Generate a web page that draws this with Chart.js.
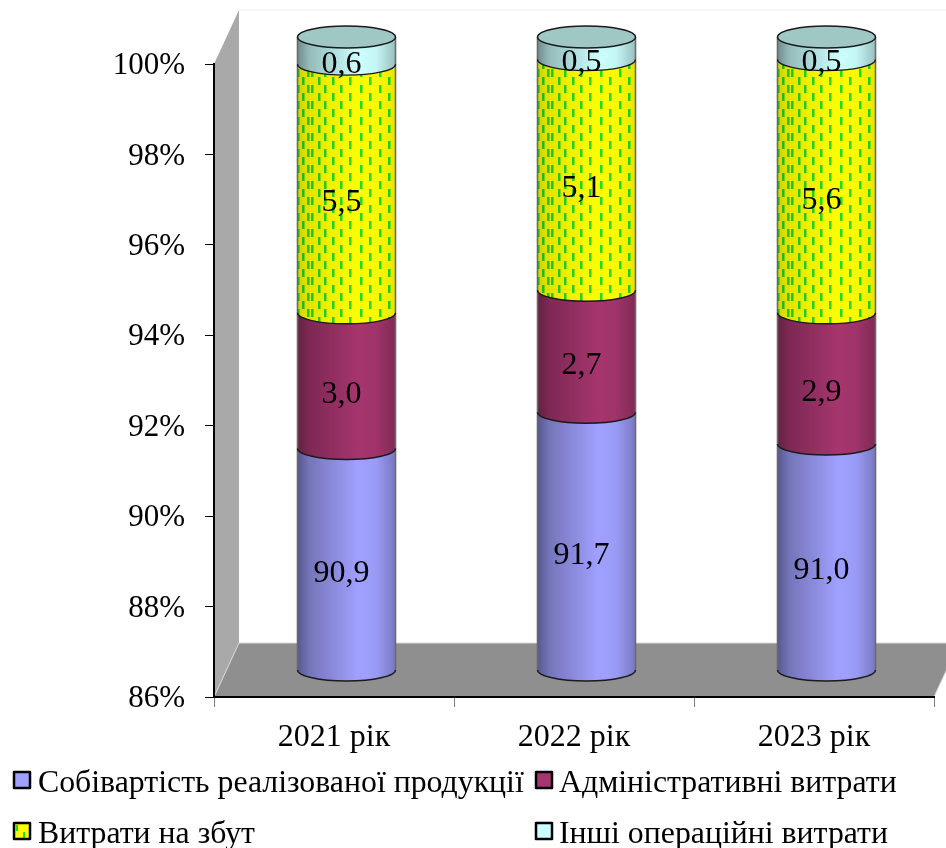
<!DOCTYPE html>
<html lang="uk">

<head>
  <meta charset="utf-8">
  <title>Структура витрат</title>
  <script src="https://cdn.jsdelivr.net/npm/chart.js"></script>
  <style>
    html, body { margin: 0; padding: 0; background: #fff; overflow: hidden; }
    canvas { display: block; }
  </style>
</head>

<body>
  <canvas id="chart" width="946" height="848"></canvas>
  <script type="text/javascript">
    const years = ["2021 рік", "2022 рік", "2023 рік"];
    const cost_of_sales = [90.9, 91.7, 91.0];
    const admin_costs = [3.0, 2.7, 2.9];
    const selling_costs = [5.5, 5.1, 5.6];
    const other_costs = [0.6, 0.5, 0.5];
    const series_names = ["Собівартість реалізованої продукції", "Адміністративні витрати", "Витрати на збут", "Інші операційні витрати"];
    const series_colors = ["#a0a0ff", "#a5356e", "#ffff00", "#ccffff"];
    const shade_strength = [0.9, 0.8, 0.35, 0.9];

    const SERIF = "'Liberation Serif', 'Times New Roman', serif";
    const DEPTH_X = 25, DEPTH_Y = 54;
    const RY = 11;
    const DASH_GREEN = "#1fdc1f";

    // cylinders stand half way into the 3D floor
    const SHIFT_X = DEPTH_X / 2, SHIFT_Y = -27;

    // dashed texture of the yellow segment, columns get tighter to the cylinder edges
    function make_dash_pattern(ctx, w) {
      const tile = document.createElement("canvas");
      tile.width = w;
      tile.height = 16;
      const t = tile.getContext("2d");
      t.fillStyle = DASH_GREEN;
      [1, 8, 14, 22, 30, 39, 50, 59, 69, 78, 85, 90, 95].forEach((x, i) => {
        t.fillRect(x, i % 2 ? 8 : 0, 2.5, 8);
      });
      return ctx.createPattern(tile, "repeat");
    }

    function bottom_half(ctx, x, y, rx) {
      ctx.ellipse(x, y, rx, RY, 0, 0, Math.PI);
    }

    function shade_for(ctx, left, width, k) {
      const shade = ctx.createLinearGradient(left, 0, left + width, 0);
      const a = v => "rgba(0,0,0," + (v * k) + ")";
      shade.addColorStop(0, a(0.5));
      shade.addColorStop(0.12, a(0.3));
      shade.addColorStop(0.62, a(0));
      shade.addColorStop(0.8, a(0.04));
      shade.addColorStop(1, a(0.28));
      return shade;
    }

    const walls_plugin = {
      id: "walls",
      beforeDraw(chart) {
        const { ctx, chartArea: a } = chart;
        ctx.save();
        // back wall edge
        ctx.strokeStyle = "#eeeeee";
        ctx.beginPath();
        ctx.moveTo(a.left + DEPTH_X, a.top - DEPTH_Y);
        ctx.lineTo(a.right + DEPTH_X, a.top - DEPTH_Y);
        ctx.stroke();
        // left wall
        ctx.fillStyle = "#a9a9a9";
        ctx.beginPath();
        ctx.moveTo(a.left, a.top);
        ctx.lineTo(a.left + DEPTH_X, a.top - DEPTH_Y);
        ctx.lineTo(a.left + DEPTH_X, a.bottom - DEPTH_Y);
        ctx.lineTo(a.left, a.bottom);
        ctx.closePath();
        ctx.fill();
        // floor
        ctx.fillStyle = "#8f8f8f";
        ctx.strokeStyle = "#d8d8d8";
        ctx.beginPath();
        ctx.moveTo(a.left, a.bottom);
        ctx.lineTo(a.left + DEPTH_X, a.bottom - DEPTH_Y);
        ctx.lineTo(a.right + DEPTH_X, a.bottom - DEPTH_Y);
        ctx.lineTo(a.right, a.bottom);
        ctx.closePath();
        ctx.fill();
        ctx.beginPath();
        ctx.moveTo(a.left, a.bottom);
        ctx.lineTo(a.left + DEPTH_X, a.bottom - DEPTH_Y);
        ctx.lineTo(a.right + DEPTH_X, a.bottom - DEPTH_Y);
        ctx.lineTo(a.right, a.bottom);
        ctx.stroke();
        ctx.restore();
      }
    };

    const cylinder_plugin = {
      id: "cylinder",
      beforeDatasetsDraw(chart) {
        chart.ctx.save();
        chart.ctx.translate(SHIFT_X, SHIFT_Y);
      },
      afterDatasetsDraw(chart) {
        const { ctx, chartArea: a } = chart;
        const metas = chart.getSortedVisibleDatasetMetas();
        metas[0].data.forEach((_, i) => {
          const first = metas[0].data[i];
          const x = first.x, w = first.width, rx = w / 2;
          const left = x - rx;
          const top_bar = metas[metas.length - 1].data[i];
          const dash = make_dash_pattern(ctx, Math.round(w));
          dash.setTransform(new DOMMatrix().translate(left + SHIFT_X, 0));

          // curved lower rims and shading, bottom segment first
          metas.forEach((meta, d) => {
            const bar = meta.data[i];
            const bottom = Math.min(bar.base, a.bottom);
            ctx.fillStyle = series_colors[d];
            ctx.beginPath();
            ctx.moveTo(left, bottom - 1);
            ctx.lineTo(left + w, bottom - 1);
            bottom_half(ctx, x, bottom, rx);
            ctx.closePath();
            ctx.fill();

            const body = new Path2D();
            body.moveTo(left, bar.y);
            body.lineTo(left + w, bar.y);
            body.ellipse(x, bottom, rx, RY, 0, 0, Math.PI);
            body.closePath();
            if (d == 2) {
              ctx.fillStyle = dash;
              ctx.fill(body);
            }
            ctx.fillStyle = shade_for(ctx, left, w, shade_strength[d]);
            ctx.fill(body);
          });

          // side lines
          ctx.strokeStyle = "#6a6a6a";
          ctx.lineWidth = 1.6;
          ctx.beginPath();
          ctx.moveTo(left, top_bar.y);
          ctx.lineTo(left, a.bottom);
          ctx.moveTo(left + w, top_bar.y);
          ctx.lineTo(left + w, a.bottom);
          ctx.stroke();

          // rim lines
          ctx.strokeStyle = "#1a1a1a";
          ctx.lineWidth = 1.4;
          metas.forEach((meta) => {
            const bar = meta.data[i];
            ctx.beginPath();
            bottom_half(ctx, x, Math.min(bar.base, a.bottom), rx);
            ctx.stroke();
          });

          // top cap
          ctx.fillStyle = "#9fc8c5";
          ctx.strokeStyle = "#1a1a1a";
          ctx.beginPath();
          ctx.ellipse(x, top_bar.y, rx, RY, 0, 0, Math.PI * 2);
          ctx.fill();
          ctx.stroke();

          // value labels
          ctx.fillStyle = "#000";
          ctx.font = "32px " + SERIF;
          ctx.textAlign = "center";
          ctx.textBaseline = "middle";
          metas.forEach((meta, d) => {
            const bar = meta.data[i];
            const bottom = Math.min(bar.base, a.bottom);
            const value = chart.data.datasets[d].data[i];
            ctx.fillText(value.toFixed(1).replace(".", ","), x - 5, (bar.y + bottom) / 2 + RY + 3);
          });
        });
        ctx.restore();
      }
    };

    const legend_plugin = {
      id: "legend2col",
      afterDraw(chart) {
        const { ctx } = chart;
        const cols = [14, 536];
        const rows = [772, 823];
        ctx.save();
        ctx.font = "31.8px " + SERIF;
        ctx.textBaseline = "alphabetic";
        ctx.textAlign = "left";
        ctx.lineJoin = "round";
        series_names.forEach((name, d) => {
          const x = cols[d % 2], y = rows[Math.floor(d / 2)];
          ctx.fillStyle = series_colors[d];
          ctx.strokeStyle = "#000";
          ctx.lineWidth = 2.5;
          ctx.beginPath();
          ctx.rect(x, y, 16, 16);
          ctx.fill();
          if (d == 2) {
            ctx.fillStyle = DASH_GREEN;
            ctx.fillRect(x + 2, y + 2, 2, 6);
            ctx.fillRect(x + 9, y + 9, 2, 6);
          }
          ctx.stroke();
          ctx.fillStyle = "#000";
          ctx.fillText(name, x + 24 - (d % 2), y + 20);
        });
        ctx.restore();
      }
    };

    function make_dataset(label, data, color) {
      return { label, data, backgroundColor: color, borderWidth: 0, barThickness: 98 };
    }

    new Chart(document.getElementById("chart"), {
      type: "bar",
      data: {
        labels: years,
        datasets: [
          make_dataset(series_names[0], cost_of_sales, series_colors[0]),
          make_dataset(series_names[1], admin_costs, series_colors[1]),
          make_dataset(series_names[2], selling_costs, series_colors[2]),
          make_dataset(series_names[3], other_costs, series_colors[3])
        ]
      },
      options: {
        responsive: false,
        animation: false,
        layout: { padding: { top: 64, right: 12, bottom: 0, left: 0 } },
        plugins: { legend: { display: false }, tooltip: { enabled: false } },
        scales: {
          x: {
            stacked: true,
            afterFit: s => { s.height = 151; },
            border: { color: "#000", width: 2 },
            grid: { drawOnChartArea: false, color: "#808080", tickLength: 10, offset: true },
            ticks: { color: "#000", font: { family: SERIF, size: 32 }, padding: 11, maxRotation: 0 }
          },
          y: {
            stacked: true,
            min: 86,
            max: 100,
            afterFit: s => { s.width = 214; },
            border: { color: "#000", width: 2 },
            grid: { drawOnChartArea: false, color: "#000", tickLength: 9 },
            ticks: { stepSize: 2, color: "#000", font: { family: SERIF, size: 31 }, padding: 20, labelOffset: 2, callback: v => v + "%" }
          }
        }
      },
      plugins: [walls_plugin, cylinder_plugin, legend_plugin]
    });
  </script>
</body>

</html>
